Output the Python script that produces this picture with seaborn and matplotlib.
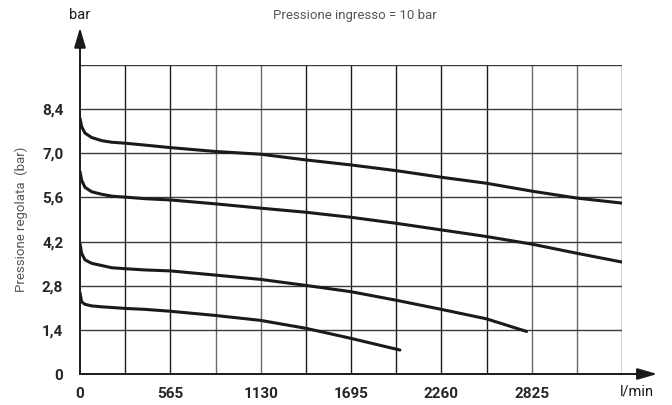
import numpy as np
import pandas as pd
import matplotlib
matplotlib.use("Agg")
import matplotlib.pyplot as plt
import seaborn as sns

# data (l/min -> bar)
x_top = [0, 10, 31, 73, 136, 199, 282, 406, 565, 840, 1130, 1412, 1695, 1977, 2260, 2542, 2825, 3107, 3390]
y_top = [8.11, 7.85, 7.64, 7.50, 7.40, 7.35, 7.32, 7.26, 7.18, 7.06, 6.97, 6.79, 6.63, 6.45, 6.24, 6.05, 5.80, 5.58, 5.42]

x_56 = [0, 10, 31, 73, 136, 199, 282, 406, 565, 840, 1130, 1412, 1695, 1977, 2260, 2542, 2825, 3107, 3390]
y_56 = [6.42, 6.15, 5.92, 5.78, 5.70, 5.64, 5.61, 5.56, 5.52, 5.40, 5.26, 5.13, 4.97, 4.78, 4.57, 4.36, 4.12, 3.83, 3.55]

x_35 = [0, 10, 31, 73, 136, 199, 282, 406, 565, 840, 1130, 1412, 1695, 1977, 2260, 2542, 2793]
y_35 = [4.13, 3.83, 3.62, 3.51, 3.44, 3.37, 3.34, 3.30, 3.27, 3.14, 3.00, 2.81, 2.61, 2.34, 2.05, 1.75, 1.35]

x_21 = [0, 10, 31, 73, 136, 199, 282, 406, 565, 840, 1130, 1412, 1695, 2001]
y_21 = [2.58, 2.29, 2.21, 2.16, 2.13, 2.11, 2.08, 2.05, 1.99, 1.86, 1.70, 1.45, 1.13, 0.76]

x_labels = ['0', '565', '1130', '1695', '2260', '2825']
y_labels = ['0', '1,4', '2,8', '4,2', '5,6', '7,0', '8,4']

frames = []
for name, xs, ys in [('a', x_top, y_top), ('b', x_56, y_56), ('c', x_35, y_35), ('d', x_21, y_21)]:
    frames.append(pd.DataFrame({'portata': xs, 'pressione': ys, 'curva': name}))
df = pd.concat(frames, ignore_index=True)

sns.set_style("white")
plt.rcParams['font.family'] = ['Roboto', 'DejaVu Sans']

fig = plt.figure(figsize=(6.72, 4.05), dpi=100)
ax = fig.add_axes([80 / 672, 31 / 405, 542 / 672, 309 / 405])

step_x = 282.5
step_y = 1.4
x_max = 12 * step_x
y_max = 7 * step_y

# griglia
grey_cols = {3, 4, 10, 11}
for i in range(1, 13):
    ax.axvline(i * step_x, color='#6a6a6a' if i in grey_cols else '#1a1a1a', lw=1.0, zorder=1)
for j in range(1, 8):
    ax.axhline(j * step_y, color='#3a3a3a', lw=1.0, zorder=1)

sns.lineplot(data=df, x='portata', y='pressione', units='curva', estimator=None,
             color='#1a1a1a', lw=2.2, sort=False, ax=ax, zorder=3)

ax.set_xlim(0, x_max)
ax.set_ylim(0, y_max)

xt = [i * step_x for i in range(12)]
ax.set_xticks(xt)
ax.set_xticklabels([x_labels[i // 2] if i % 2 == 0 else '' for i in range(12)],
                   fontsize=11, fontweight='bold')
ax.set_yticks([j * step_y for j in range(7)])
ax.set_yticklabels(y_labels, fontsize=11, fontweight='bold')
ax.tick_params(axis='x', direction='out', length=7, width=1.0, color='#1a1a1a', pad=2)
ax.tick_params(axis='y', direction='out', length=4, width=1.0, color='#1a1a1a', pad=8)

for s in ['top', 'right']:
    ax.spines[s].set_visible(False)
ax.spines['left'].set_linewidth(1.4)
ax.spines['bottom'].set_linewidth(1.4)
ax.spines['left'].set_color('#1a1a1a')
ax.spines['bottom'].set_color('#1a1a1a')

ax.set_xlabel('')
ax.set_ylabel('Pressione regolata  (bar)', fontsize=9.5, color='#555555', labelpad=10)

# frecce degli assi
ax.annotate('', xy=(1.07, 0), xytext=(0.99, 0), xycoords='axes fraction',
            arrowprops=dict(arrowstyle='-|>,head_length=1.2,head_width=0.35', color='#1a1a1a', lw=1.4),
            annotation_clip=False)
ax.annotate('', xy=(0, 1.13), xytext=(0, 0.99), xycoords='axes fraction',
            arrowprops=dict(arrowstyle='-|>,head_length=1.2,head_width=0.35', color='#1a1a1a', lw=1.4),
            annotation_clip=False)

fig.text(80 / 672, 1 - 15 / 405, 'bar', ha='center', va='center', fontsize=10.5, color='#1a1a1a')
fig.text(637 / 672, 1 - 391 / 405, 'l/min', ha='center', va='center', fontsize=10.5, color='#1a1a1a')
fig.text(355 / 672, 1 - 15 / 405, 'Pressione ingresso = 10 bar', ha='center', va='center',
         fontsize=9.5, color='#555555')

fig.savefig('out.png', dpi=100)
